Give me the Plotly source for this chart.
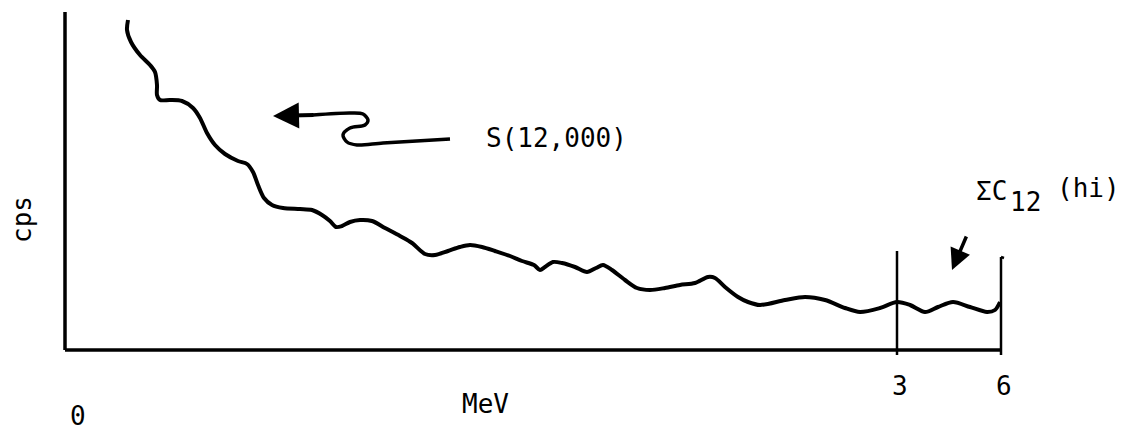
import plotly.graph_objects as go

# Spectrum (channel units along the energy axis, arbitrary cps)
channel = [63, 62, 66, 75, 85, 90, 92, 92, 95, 105, 117, 128, 135, 142, 150, 160, 173, 182, 188, 193,
           199, 207, 218, 235, 247, 257, 265, 271, 277, 285, 295, 307, 320, 335, 347, 360, 370, 383,
           395, 405, 417, 430, 445, 457, 469, 475, 480, 488, 497, 510, 522, 531, 538, 547, 560, 572,
           585, 600, 615, 630, 643, 650, 660, 673, 683, 695, 720, 740, 760, 780, 795, 815, 832, 845,
           860, 873, 888, 905, 922, 930, 935]
cps = [330, 320, 308, 295, 285, 278, 265, 255, 250, 250, 249, 242, 232, 217, 205, 196, 189, 186, 178, 165,
       152, 145, 142, 141, 140, 135, 129, 123, 124, 128, 130, 129, 122, 114, 107, 96, 95, 99,
       103, 105, 103, 99, 94, 89, 85, 80, 83, 88, 87, 83, 78, 82, 85, 80, 70, 62,
       60, 62, 65, 67, 73, 72, 63, 53, 48, 45, 50, 53, 50, 42, 38, 42, 48, 45,
       38, 43, 48, 43, 38, 40, 48]

# Squiggly pointer for S(12,000)
pointer_x = [385, 318, 292, 282, 278, 285, 300, 303, 298, 285, 248]
pointer_y = [211, 207, 205, 208, 215, 222, 225, 230, 236, 237, 235]

# Window markers and ticks
tick_vals = [832, 936]
tick_text = ["3", "6"]
window_top = [99, 93]
axis_x_end = 936
axis_y_top = 338

FONT = "DejaVu Sans Mono"
TXT = dict(family=FONT, size=26, color="black")

fig = go.Figure()
fig.add_trace(go.Scatter(x=channel, y=cps, mode="lines",
                         line=dict(color="black", width=4, shape="spline", smoothing=0.8),
                         hoverinfo="skip", showlegend=False))
fig.add_trace(go.Scatter(x=pointer_x, y=pointer_y, mode="lines",
                         line=dict(color="black", width=3.5, shape="spline", smoothing=0.9),
                         hoverinfo="skip", showlegend=False))

shapes = [
    dict(type="line", x0=0, y0=0, x1=0, y1=axis_y_top, xref="x", yref="y",
         line=dict(color="black", width=3.5)),
    dict(type="line", x0=0, y0=0, x1=axis_x_end, y1=0, xref="x", yref="y",
         line=dict(color="black", width=3.5)),
]
for tv, top in zip(tick_vals, window_top):
    shapes.append(dict(type="line", x0=tv, y0=-5, x1=tv, y1=top, xref="x", yref="y",
                       line=dict(color="black", width=2.5)))
shapes.append(dict(type="line", x0=tick_vals[1], y0=window_top[1], x1=tick_vals[1] + 3,
                   y1=window_top[1] - 1, xref="x", yref="y", line=dict(color="black", width=2.5)))

annotations = []
for tv, tt in zip(tick_vals, tick_text):
    annotations.append(dict(x=tv + 3, y=-36, text=tt, showarrow=False, xref="x", yref="y", font=TXT))
annotations += [
    dict(x=13, y=-66, text="0", showarrow=False, xref="x", yref="y", font=TXT),
    dict(x=420, y=-54, text="MeV", showarrow=False, xref="x", yref="y", font=TXT),
    dict(x=-43, y=130, text="cps", showarrow=False, xref="x", yref="y", textangle=-90, font=TXT),
    dict(x=491, y=212, text="S(12,000)", showarrow=False, xref="x", yref="y", font=TXT),
    dict(x=926, y=159, text="ΣC", showarrow=False, xref="x", yref="y", font=TXT),
    dict(x=960, y=148, text="12", showarrow=False, xref="x", yref="y", font=TXT),
    dict(x=1023, y=162, text="(hi)", showarrow=False, xref="x", yref="y", font=TXT),
    # arrowhead of the S(12,000) pointer
    dict(x=208, y=234, ax=250, ay=235, xref="x", yref="y", axref="x", ayref="y",
         text="", showarrow=True, arrowhead=2, arrowsize=1.3, arrowwidth=4, arrowcolor="black"),
    # arrow toward the ΣC12 window
    dict(x=887, y=80, ax=902, ay=115, xref="x", yref="y", axref="x", ayref="y",
         text="", showarrow=True, arrowhead=2, arrowsize=1.2, arrowwidth=3.5, arrowcolor="black"),
]

fig.update_layout(
    width=1127, height=434,
    margin=dict(l=0, r=0, t=0, b=0),
    paper_bgcolor="white", plot_bgcolor="white",
    shapes=shapes, annotations=annotations,
    xaxis=dict(range=[-65, 1062], visible=False),
    yaxis=dict(range=[-84, 350], visible=False),
    showlegend=False,
)
fig.write_html("out.html", config={"displayModeBar": False},
               post_script="document.body.style.margin='0';")
